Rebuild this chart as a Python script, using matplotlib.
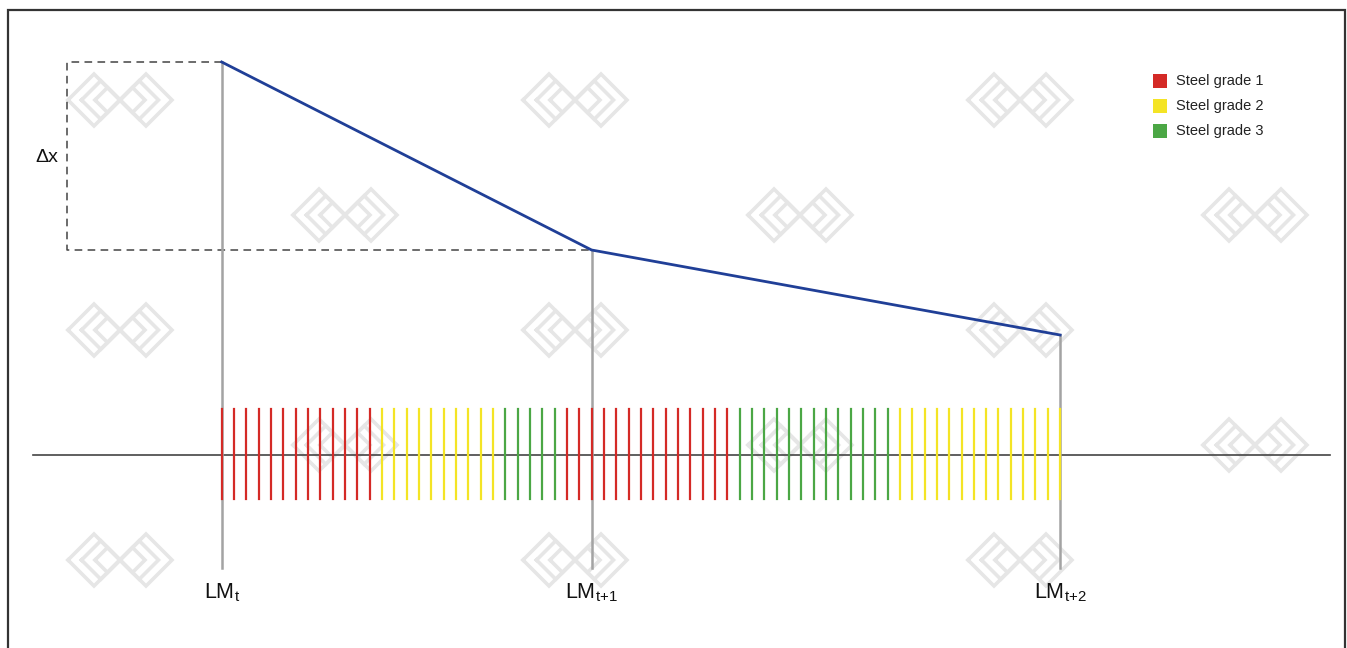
import numpy as np
import matplotlib.pyplot as plt
from matplotlib.patches import Rectangle

# coil sequence along the time axis (one vertical stripe per coil)
grade_blocks = ['Steel grade 1', 'Steel grade 2', 'Steel grade 3',
                'Steel grade 1', 'Steel grade 3', 'Steel grade 2']
block_counts = [13, 10, 5, 14, 13, 14]
grade_colors = {'Steel grade 1': '#d42a26',
                'Steel grade 2': '#f4e425',
                'Steel grade 3': '#4ba745'}

# LM decision points (coil index) and the curve value at each of them
lm_index = [0, 30, 68]
lm_labels = [r'LM$_{\mathregular{t}}$', r'LM$_{\mathregular{t{+}1}}$', r'LM$_{\mathregular{t{+}2}}$']
curve_values = [3.93, 2.05, 1.20]

# watermark positions (pixels)
wm_x = [120, 575, 1020, 345, 800, 1255, 120, 575, 1020, 345, 800, 1255, 120, 575, 1020]
wm_y = [100, 100, 100, 215, 215, 215, 330, 330, 330, 445, 445, 445, 560, 560, 560]

W, H = 1347, 648
fig = plt.figure(figsize=(W / 100, H / 100), dpi=100)
fig.patch.set_facecolor('white')

# background watermark layer in pixel coordinates
bg = fig.add_axes([0, 0, 1, 1])
bg.set_xlim(0, W)
bg.set_ylim(H, 0)
bg.axis('off')
for cx, cy in zip(wm_x, wm_y):
    for s in [1.0, 0.74, 0.48]:
        px = np.array([-52, -26, 0, 26, 52, 26, 0, -26, -52]) * s
        py = np.array([0, -26, 0, 26, 0, -26, 0, 26, 0]) * s
        bg.plot(cx + px, cy + py, color='#e6e6e6', lw=2.6, solid_joinstyle='miter', zorder=0)

# frame around the picture
fig.add_artist(Rectangle((8 / W, -0.01), (1345 - 8) / W, 1 - 10 / H + 0.01,
                         transform=fig.transFigure, fill=False, ec='#333333', lw=1.6))

ax = fig.add_axes([0, 0, 1, 1])
ax.patch.set_alpha(0)
step = 12.33
x0 = 221.7
ax.set_xlim(-x0 / step, (W - x0) / step)
ax.set_ylim(-1.93, 4.55)
ax.axis('off')

# horizontal time axis
ax.plot([(33 - x0) / step, (1330 - x0) / step], [0, 0], color='#444444', lw=1.2, zorder=2)

# coil stripes
seq = []
for g, n in zip(grade_blocks, block_counts):
    seq += [g] * n
for i, g in enumerate(seq):
    ax.plot([i, i], [-0.44, 0.46], color=grade_colors[g], lw=1.6, zorder=3)

# gray vertical LM markers
for xi, v in zip(lm_index, curve_values):
    ax.plot([xi, xi], [-1.13, v], color='#a3a3a3', lw=1.8, zorder=2.5)

# blue curve
ax.plot(lm_index, curve_values, color='#203f97', lw=2.0, zorder=4)

# dashed delta-x box
xl = (67 - x0) / step
ax.plot([lm_index[0], xl, xl, lm_index[1]],
        [curve_values[0], curve_values[0], curve_values[1], curve_values[1]],
        color='#444444', lw=1.1, ls=(0, (5, 3.5)), zorder=2)
ax.text((58 - x0) / step, (455 - 158) / 100, '\u0394x', ha='right', va='center',
        fontsize=14, family='Liberation Sans', color='#111111')

# LM labels
for xi, lab in zip(lm_index, lm_labels):
    ax.text(xi, -1.38, lab, ha='center', va='center', fontsize=15.5,
            family='Liberation Sans', color='#111111')

# legend
for k, g in enumerate(['Steel grade 1', 'Steel grade 2', 'Steel grade 3']):
    yk = (455 - (81 + 25 * k)) / 100
    ax.scatter([(1160 - x0) / step], [yk], marker='s', s=95, color=grade_colors[g],
               linewidths=0, zorder=5)
    ax.text((1176 - x0) / step, yk, g, ha='left', va='center', fontsize=10.5,
            family='Liberation Sans', color='#222222')

fig.savefig('out.png', dpi=100, facecolor='white')
